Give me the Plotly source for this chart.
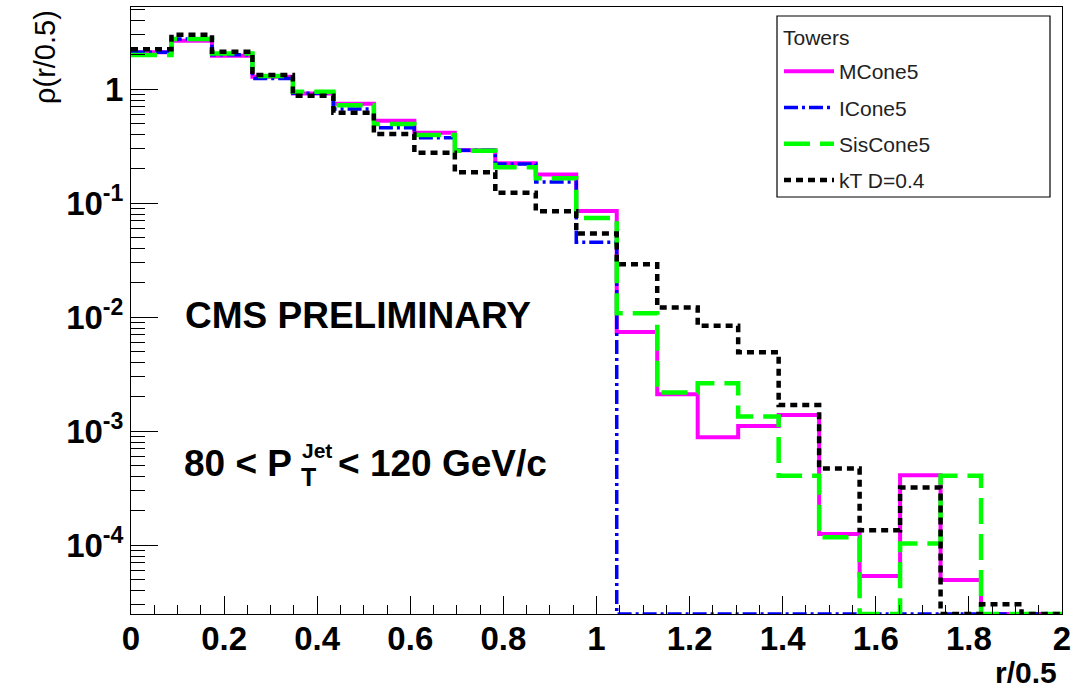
import numpy as np
import plotly.graph_objects as go

# Histogram binning: 23 bins over r/0.5 in [0, 2]
n_bins = 23
x_min, x_max = 0.0, 2.0

series_names = ["MCone5", "ICone5", "SisCone5", "kT D=0.4"]

mcone5 = [2.10, 2.65, 1.96, 1.28, 0.916, 0.743, 0.527, 0.414, 0.290, 0.223, 0.178, 0.085,
          0.0074, 0.0021, 0.00088, 0.00111, 0.00138, 1.25e-4, 5.35e-5, 4.1e-4, 4.93e-5, 0, 0]
icone5 = [2.10, 2.75, 2.00, 1.24, 0.920, 0.668, 0.458, 0.374, 0.290, 0.220, 0.153, 0.0452,
          0, 0, 0, 0, 0, 0, 0, 0, 0, 0, 0]
siscone5 = [1.99, 2.75, 2.05, 1.30, 0.947, 0.720, 0.493, 0.395, 0.288, 0.206, 0.165, 0.074,
            0.0108, 0.00218, 0.00262, 0.00134, 4.06e-4, 1.17e-4, 0, 1.03e-4, 4.06e-4, 0, 0]
kt04 = [2.23, 2.99, 2.12, 1.33, 0.874, 0.620, 0.403, 0.276, 0.186, 0.123, 0.0846, 0.0542,
        0.029, 0.0121, 0.0084, 0.0049, 0.00169, 4.7e-4, 1.35e-4, 3.19e-4, 0, 3.02e-5, 0]

x_tick_vals = [0, 0.2, 0.4, 0.6, 0.8, 1, 1.2, 1.4, 1.6, 1.8, 2]
x_tick_text = ["0", "0.2", "0.4", "0.6", "0.8", "1", "1.2", "1.4", "1.6", "1.8", "2"]
y_tick_vals = [1, 1e-1, 1e-2, 1e-3, 1e-4]
y_tick_text = ["1", "10<sup>-1</sup>", "10<sup>-2</sup>", "10<sup>-3</sup>", "10<sup>-4</sup>"]

y_log_range = [-4.605, 0.72]
floor_val = 10 ** y_log_range[0]

edges = np.linspace(x_min, x_max, n_bins + 1)

styles = [
    dict(color="#ff00ff", width=4, dash="solid"),
    dict(color="#0000ff", width=3.5, dash="14px,4px,3px,4px"),
    dict(color="#00ff00", width=4.5, dash="26px,10px"),
    dict(color="#000000", width=4.5, dash="7px,5px"),
]

FONT = "Liberation Sans, Arial, Helvetica, sans-serif"

fig = go.Figure()
for i, (name, vals, st) in enumerate(zip(series_names, [mcone5, icone5, siscone5, kt04], styles)):
    yv = [v if v > 0 else floor_val for v in vals]
    yv = yv + [yv[-1]]
    fig.add_trace(go.Scatter(
        x=edges, y=yv, mode="lines", line_shape="hv", name=name,
        line=dict(color=st["color"], width=st["width"], dash=st["dash"]),
        legendgroup=f"g{i}", hoverinfo="skip",
    ))

minor_y = [m * 10 ** k for k in range(-5, 1) for m in range(2, 10)]

L, R, T, B = 131, 1062, 7, 614
W, H = 1078, 691


def px_x(p):
    return (p - L) / (R - L)


def px_y(p):
    return (B - p) / (B - T)


fig.update_layout(
    width=W, height=H,
    margin=dict(l=L, r=W - R, t=T, b=H - B),
    paper_bgcolor="white", plot_bgcolor="white",
    font=dict(family=FONT, color="black"),
    showlegend=True,
    legend=dict(
        x=px_x(779), y=px_y(51), xanchor="left", yanchor="top",
        bgcolor="rgba(0,0,0,0)", borderwidth=0,
        font=dict(size=21, family=FONT, color="#222222"),
        itemwidth=50, tracegroupgap=6,
    ),
    xaxis=dict(
        range=[x_min, x_max], tickvals=x_tick_vals, ticktext=x_tick_text,
        ticks="inside", ticklen=18, tickwidth=1, tickcolor="black",
        minor=dict(ticks="inside", ticklen=9, dtick=0.05, tickcolor="black", tickwidth=1),
        showline=True, linecolor="black", linewidth=1, mirror=True,
        showgrid=False, zeroline=False, ticklabelstandoff=-5,
        tickfont=dict(size=33, family=FONT, weight="bold"),
    ),
    yaxis=dict(
        type="log", range=y_log_range, tickvals=y_tick_vals, ticktext=y_tick_text,
        ticks="inside", ticklen=27, tickwidth=1, tickcolor="black",
        minor=dict(ticks="inside", ticklen=14, tickvals=minor_y, tickcolor="black", tickwidth=1),
        showline=True, linecolor="black", linewidth=1, mirror=True,
        showgrid=False, zeroline=False,
        tickfont=dict(size=33, family=FONT, weight="bold"),
    ),
    shapes=[dict(type="rect", xref="paper", yref="paper",
                 x0=px_x(777), x1=px_x(1050), y0=px_y(197), y1=px_y(16),
                 line=dict(color="black", width=1.2), fillcolor="rgba(0,0,0,0)")],
)

ann = [
    dict(text="Towers", x=px_x(781), y=px_y(37), xanchor="left", yanchor="middle",
         font=dict(size=21, color="#222222")),
    dict(text="CMS PRELIMINARY", x=px_x(183), y=px_y(315), xanchor="left", yanchor="middle",
         font=dict(size=37, weight="bold")),
    dict(text="80 < P", x=px_x(182), y=px_y(463), xanchor="left", yanchor="middle",
         font=dict(size=37, weight="bold")),
    dict(text="Jet", x=px_x(300), y=px_y(450), xanchor="left", yanchor="middle",
         font=dict(size=21, weight="bold")),
    dict(text="T", x=px_x(299), y=px_y(477), xanchor="left", yanchor="middle",
         font=dict(size=25, weight="bold")),
    dict(text="< 120 GeV/c", x=px_x(336), y=px_y(463), xanchor="left", yanchor="middle",
         font=dict(size=37, weight="bold")),
    dict(text="r/0.5", x=px_x(1059), y=px_y(672), xanchor="right", yanchor="middle",
         font=dict(size=30, weight="bold")),
    dict(text="ρ(r/0.5)", x=px_x(45), y=px_y(57), xanchor="center", yanchor="middle",
         textangle=-90, font=dict(size=29)),
]
for a in ann:
    a.update(xref="paper", yref="paper", showarrow=False)
    a["font"].setdefault("family", FONT)
    a["font"].setdefault("color", "black")
fig.update_layout(annotations=ann)

fig.write_html("out.html", config={"displayModeBar": False},
               post_script="document.body.style.margin='0';document.body.style.overflow='hidden';")
